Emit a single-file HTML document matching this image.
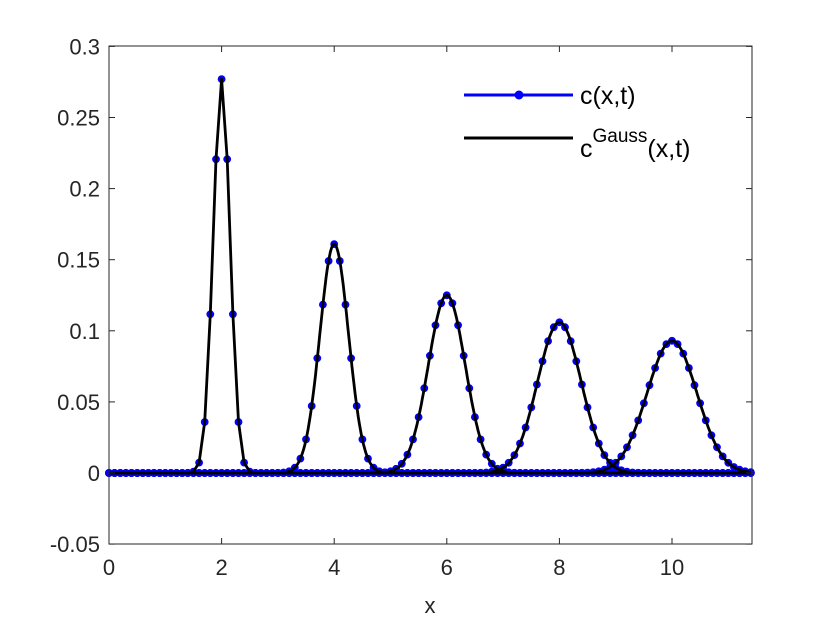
<!DOCTYPE html>
<html><head><meta charset="utf-8"><style>
html,body{margin:0;padding:0;background:#fff;}
svg{display:block;font-family:"Liberation Sans",Arial,sans-serif;}
</style></head><body>
<svg id="s" width="830" height="622" xmlns="http://www.w3.org/2000/svg">
<rect width="830" height="622" fill="#fff"/>
<g id="plot"></g>
<rect x="109" y="46" width="643" height="498" fill="none" stroke="#262626" stroke-width="1"/>
<g id="ticks" stroke="#262626" stroke-width="1"></g>
<g font-size="22" fill="#262626" id="labels"></g>
<text x="430" y="613" font-size="22" fill="#262626" text-anchor="middle">x</text>
<line x1="464" y1="95" x2="573" y2="95" stroke="#0000ff" stroke-width="3"/>
<circle cx="519" cy="95" r="4.5" fill="#0000ff"/>
<text x="580" y="104" font-size="25" fill="#000">c(x,t)</text>
<line x1="464" y1="138" x2="573" y2="138" stroke="#000" stroke-width="3"/>
<text x="580" y="157" font-size="25" fill="#000">c<tspan dy="-15" font-size="19">Gauss</tspan><tspan dy="15">(x,t)</tspan></text>
</svg>
<script>
var X0=109,SX=56.3,Y0=473,SY=71.1/0.05;
function px(x){return X0+x*SX;} function py(y){return Y0-y*SY;}
var peaks=[[2,0.277],[4,0.161],[6,0.125],[8,0.106],[10,0.093]];
var area=0.103;
var plot=document.getElementById('plot');
var h=0.1;
var dots="",lines="";
peaks.forEach(function(p){
  var s=area/(2.5066*p[1]);
  var d="";
  for(var k=0;k<=114;k++){var x=k*h;var y=p[1]*Math.exp(-Math.pow(x-p[0],2)/(2*s*s));
    dots+='<circle cx="'+px(x).toFixed(1)+'" cy="'+py(y).toFixed(1)+'" r="3.9" fill="#0000ff"/>';}
  var N=p[0]<3?114:600;
  for(var i=0;i<=N;i++){var x=i*11.4/N;var y=p[1]*Math.exp(-Math.pow(x-p[0],2)/(2*s*s));
    d+=(i?'L':'M')+px(x).toFixed(1)+' '+py(y).toFixed(1);}
  lines+='<path d="'+d+'" fill="none" stroke="#000" stroke-width="2.8" stroke-linejoin="round"/>';
});
plot.innerHTML='<line x1="109" y1="473" x2="752" y2="473" stroke="#0000ff" stroke-width="3"/>'+dots+lines;
var t="",l="";
for(var v=0;v<=10;v+=2){var x=px(v);t+='<line x1="'+x+'" y1="544" x2="'+x+'" y2="538"/><line x1="'+x+'" y1="46" x2="'+x+'" y2="52"/>';
 l+='<text x="'+x+'" y="575" text-anchor="middle">'+v+'</text>';}
var yl=["-0.05","0","0.05","0.1","0.15","0.2","0.25","0.3"];
for(var j=0;j<8;j++){var y=py(-0.05+0.05*j);t+='<line x1="109" y1="'+y+'" x2="115" y2="'+y+'"/><line x1="752" y1="'+y+'" x2="746" y2="'+y+'"/>';
 l+='<text x="100" y="'+(y+8)+'" text-anchor="end">'+yl[j]+'</text>';}
document.getElementById('ticks').innerHTML=t;
document.getElementById('labels').innerHTML=l;
</script>
</body></html>
